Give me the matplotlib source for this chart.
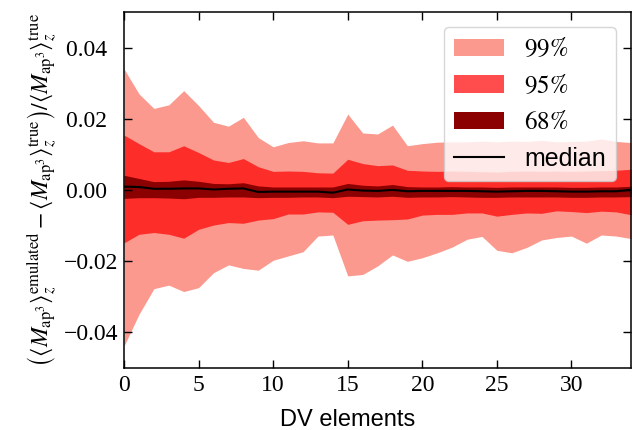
import numpy as np
import matplotlib
matplotlib.use('Agg')
import matplotlib.pyplot as plt
from matplotlib.ticker import FuncFormatter

plt.rcParams['mathtext.fontset'] = 'stix'
plt.rcParams['font.family'] = 'Liberation Sans'

# DV elements 0..34
dv = np.arange(35)

# 99% band
hi99 = [0.034, 0.027, 0.0229, 0.0239, 0.0279, 0.0237, 0.019, 0.0179, 0.0204, 0.0147,
        0.0121, 0.0133, 0.0138, 0.0132, 0.0132, 0.0213, 0.016, 0.0157, 0.0182, 0.0124,
        0.013, 0.0134, 0.0135, 0.0135, 0.0137, 0.0135, 0.0137, 0.0136, 0.0139, 0.0135,
        0.0136, 0.0137, 0.0143, 0.0136, 0.0133]
lo99 = [-0.0439, -0.035, -0.0278, -0.0268, -0.0286, -0.0275, -0.0233, -0.0211, -0.0221, -0.0226,
        -0.0198, -0.0186, -0.0174, -0.013, -0.0127, -0.0242, -0.0238, -0.0214, -0.0183, -0.0201,
        -0.0191, -0.0177, -0.0161, -0.0139, -0.0131, -0.017, -0.0177, -0.0162, -0.0141, -0.0134,
        -0.013, -0.015, -0.0127, -0.013, -0.0137]

# 95% band
hi95 = [0.0154, 0.013, 0.0107, 0.0107, 0.0124, 0.0105, 0.0084, 0.0077, 0.0088, 0.0065,
        0.0052, 0.0053, 0.0052, 0.0048, 0.0047, 0.0086, 0.0074, 0.0068, 0.007, 0.0055,
        0.0053, 0.0052, 0.0053, 0.0052, 0.0051, 0.005, 0.0052, 0.0053, 0.0052, 0.0053,
        0.0052, 0.0053, 0.0054, 0.0055, 0.0058]
lo95 = [-0.0149, -0.0125, -0.012, -0.0125, -0.0136, -0.0111, -0.0099, -0.0092, -0.0094, -0.0085,
        -0.0081, -0.0068, -0.0068, -0.0062, -0.0063, -0.0097, -0.0087, -0.0085, -0.0084, -0.0082,
        -0.0071, -0.0069, -0.0069, -0.0065, -0.0065, -0.0074, -0.0069, -0.0065, -0.0066, -0.0059,
        -0.0061, -0.0064, -0.006, -0.0062, -0.007]

# 68% band
hi68 = [0.0041, 0.0032, 0.0023, 0.0024, 0.0028, 0.0024, 0.0018, 0.0017, 0.002, 0.0011,
        0.0008, 0.0008, 0.0008, 0.0008, 0.0008, 0.0018, 0.0013, 0.0011, 0.0015, 0.0009,
        0.0008, 0.0008, 0.0009, 0.0008, 0.0008, 0.0007, 0.0008, 0.0008, 0.0008, 0.0008,
        0.0007, 0.0007, 0.0008, 0.0008, 0.001]
lo68 = [-0.0024, -0.0022, -0.0022, -0.0023, -0.0025, -0.0021, -0.0021, -0.002, -0.002, -0.0022,
        -0.0021, -0.0021, -0.002, -0.002, -0.0022, -0.0018, -0.0019, -0.002, -0.0018, -0.0021,
        -0.002, -0.002, -0.0019, -0.002, -0.0021, -0.0021, -0.002, -0.002, -0.002, -0.002,
        -0.0021, -0.0021, -0.002, -0.002, -0.0019]

median = [0.0009, 0.0008, 0.0003, 0.0003, 0.0004, 0.0004, 0.0001, 0.0003, 0.0004, -0.0006,
          -0.0005, -0.0005, -0.0005, -0.0005, -0.0008, 0.0001, -0.0002, -0.0003, 0.0, -0.0004,
          -0.0003, -0.0003, -0.0003, -0.0003, -0.0004, -0.0005, -0.0004, -0.0003, -0.0003, -0.0004,
          -0.0005, -0.0005, -0.0004, -0.0004, 0.0]


def ylab(v, pos):
    # positive labels get a figure space so they sit like in the original
    if v < -1e-9:
        return '\u2212' + f'{-v:.2f}'
    return f'{abs(v):.2f}\u2007'


fig, ax = plt.subplots(figsize=(6.33, 4.30), dpi=100)
fig.subplots_adjust(left=0.196, right=0.997, top=0.972, bottom=0.145)

ax.fill_between(dv, lo99, hi99, color='salmon', alpha=0.8, lw=0, label=r'$99\%$')
ax.fill_between(dv, lo95, hi95, color='red', alpha=0.7, lw=0, label=r'$95\%$')
ax.fill_between(dv, lo68, hi68, color='darkred', alpha=1.0, lw=0, label=r'$68\%$')
ax.plot(dv, median, color='black', lw=1.5, label='median')

ax.set_xlim(0, 34)
ax.set_ylim(-0.05, 0.05)
ax.set_xticks([0, 5, 10, 15, 20, 25, 30])
ax.set_yticks([-0.04, -0.02, 0.0, 0.02, 0.04])
ax.yaxis.set_major_formatter(FuncFormatter(ylab))
ax.tick_params(direction='in', top=True, right=True, length=6, width=1, labelsize=17)
ax.tick_params(axis='x', pad=5)
ax.tick_params(axis='y', pad=4)
for lab in ax.get_xticklabels() + ax.get_yticklabels():
    lab.set_family('Liberation Serif')
for sp in ax.spines.values():
    sp.set_linewidth(1.1)

ax.set_xlabel('DV elements', fontsize=17)
ax.xaxis.set_label_coords(0.44, -0.115)
ax.set_ylabel(r'$\left(\left\langle M_{\rm ap^3}\right\rangle_z^{\rm emulated}'
              r' - \left\langle M_{\rm ap^3}\right\rangle_z^{\rm true}\right)'
              r' / \left\langle M_{\rm ap^3}\right\rangle_z^{\rm true}$', fontsize=17)
ax.yaxis.set_label_coords(-0.128, 0.5)

ax.legend(loc='upper right', fontsize=18, framealpha=0.8, handlelength=2.0,
          borderaxespad=0.6)

plt.savefig('out.png')
